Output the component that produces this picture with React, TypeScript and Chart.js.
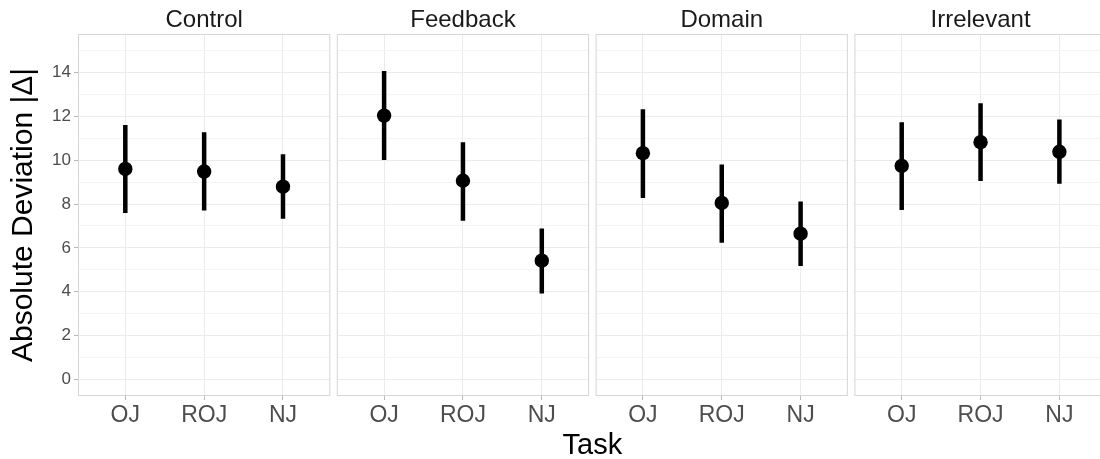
import React, { useEffect, useRef } from 'react';
import { Chart, registerables } from 'chart.js';

Chart.register(...registerables);

// ---------- data ----------
const panels = ['Control', 'Feedback', 'Domain', 'Irrelevant'];
const tasks = ['OJ', 'ROJ', 'NJ'];

const controlMean = [9.6, 9.48, 8.79];
const controlLow = [7.59, 7.71, 7.33];
const controlHigh = [11.6, 11.27, 10.27];

const feedbackMean = [12.03, 9.06, 5.42];
const feedbackLow = [10.01, 7.24, 3.92];
const feedbackHigh = [14.06, 10.82, 6.88];

const domainMean = [10.32, 8.05, 6.65];
const domainLow = [8.27, 6.24, 5.18];
const domainHigh = [12.32, 9.8, 8.12];

const irrelevantMean = [9.74, 10.82, 10.38];
const irrelevantLow = [7.73, 9.05, 8.92];
const irrelevantHigh = [11.73, 12.59, 11.85];

const yMajorTicks = [0, 2, 4, 6, 8, 10, 12, 14];
const yMinorTicks = [1, 3, 5, 7, 9, 11, 13, 15];

const yTitle = 'Absolute Deviation |Δ|';
const xTitle = 'Task';

const means = [controlMean, feedbackMean, domainMean, irrelevantMean];
const lows = [controlLow, feedbackLow, domainLow, irrelevantLow];
const highs = [controlHigh, feedbackHigh, domainHigh, irrelevantHigh];

// ---------- layout ----------
const W = 1120;
const H = 459;
const PANEL_TOP = 34;
const PANEL_BOTTOM = 396;
const PANEL_W = 252.3;
const panelLeft = [78, 336.8, 595.6, 854.4];
const FONT = '"Liberation Sans", Arial, Helvetica, sans-serif';
const MAJOR = '#ebebeb';
const MINOR = '#f4f4f4';
const BORDER = '#d6d6d6';
const TICKC = '#b8b8b8';

const facetPlugin = {
  id: 'facet',
  beforeDatasetsDraw(chart: any, _args: any, opts: any) {
    const { ctx, chartArea } = chart;
    ctx.save();
    ctx.strokeStyle = BORDER;
    ctx.lineWidth = 1;
    ctx.strokeRect(chartArea.left + 0.5, chartArea.top + 0.5, chartArea.right - chartArea.left - 1, chartArea.bottom - chartArea.top - 1);
    ctx.restore();
  },
  afterDraw(chart: any, _args: any, opts: any) {
    const { ctx, chartArea } = chart;
    ctx.save();
    ctx.fillStyle = '#1a1a1a';
    ctx.textAlign = 'center';
    ctx.textBaseline = 'alphabetic';
    ctx.font = `24px ${FONT}`;
    ctx.fillText(opts.title, (chartArea.left + chartArea.right) / 2, 27);
    if (opts.showX) {
      ctx.font = `29px ${FONT}`;
      ctx.fillStyle = '#000';
      const cx = (panelLeft[0] + panelLeft[3] + PANEL_W) / 2;
      ctx.fillText(xTitle, cx, 454);
    }
    ctx.restore();
  },
};

function Panel({ index }: { index: number }) {
  const ref = useRef<HTMLCanvasElement | null>(null);
  useEffect(() => {
    if (!ref.current) return;
    const first = index === 0;
    const m = means[index];
    const lo = lows[index];
    const hi = highs[index];
    const barData: any[] = [];
    tasks.forEach((_, i) => {
      barData.push({ x: i + 1, y: lo[i] });
      barData.push({ x: i + 1, y: hi[i] });
      barData.push({ x: i + 1, y: null });
    });
    const pointData = tasks.map((_, i) => ({ x: i + 1, y: m[i] }));
    const left = panelLeft[index];
    const right = left + PANEL_W;
    const chart = new Chart(ref.current, {
      type: 'scatter',
      data: {
        datasets: [
          {
            data: barData,
            showLine: true,
            spanGaps: false,
            borderColor: '#000',
            borderWidth: 4.5,
            borderCapStyle: 'butt',
            pointRadius: 0,
            order: 2,
          } as any,
          {
            data: pointData,
            backgroundColor: '#000',
            borderColor: '#000',
            pointRadius: 7.2,
            borderWidth: 0,
            order: 1,
          } as any,
        ],
      },
      options: {
        responsive: false,
        animation: false,
        events: [],
        layout: {
          padding: { left: first ? 0 : left, right: W - right, top: PANEL_TOP, bottom: 0 },
        },
        plugins: {
          legend: { display: false },
          tooltip: { enabled: false },
          title: { display: false },
          facet: { title: panels[index], showX: first },
        } as any,
        scales: {
          x: {
            type: 'linear',
            min: 0.4,
            max: 3.6,
            afterBuildTicks: (s: any) => {
              s.ticks = tasks.map((_, i) => ({ value: i + 1 }));
            },
            afterFit: (s: any) => {
              s.height = H - PANEL_BOTTOM;
            },
            ticks: {
              autoSkip: false,
              maxRotation: 0,
              padding: 2,
              color: '#4d4d4d',
              font: { size: 23, family: FONT },
              callback: (v: any) => tasks[Math.round(Number(v)) - 1] ?? '',
            },
            grid: { color: MAJOR, lineWidth: 1, tickLength: 4, tickColor: TICKC },
            border: { display: false },
          },
          y: {
            type: 'linear',
            min: -0.75,
            max: 15.75,
            afterBuildTicks: (s: any) => {
              const all = [...yMajorTicks, ...yMinorTicks].sort((a, b) => a - b);
              s.ticks = all.map((v) => ({ value: v }));
            },
            afterFit: (s: any) => {
              s.width = first ? left : 0;
            },
            ticks: {
              display: first,
              autoSkip: false,
              padding: 3,
              color: '#4d4d4d',
              font: { size: 17, family: FONT },
              callback: (v: any) => (yMajorTicks.includes(Number(v)) ? String(v) : ''),
            },
            grid: {
              color: (c: any) => (yMinorTicks.includes(c.tick?.value) ? MINOR : MAJOR),
              lineWidth: 1,
              drawTicks: first,
              tickLength: 4,
              tickColor: (c: any) => (yMinorTicks.includes(c.tick?.value) ? 'rgba(0,0,0,0)' : TICKC),
            },
            border: { display: false },
            title: {
              display: first,
              text: yTitle,
              color: '#000',
              font: { size: 30, family: FONT },
              padding: { top: 6, bottom: 0 },
            },
          },
        },
      } as any,
      plugins: [facetPlugin as any],
    });
    return () => chart.destroy();
  }, [index]);
  return (
    <canvas
      ref={ref}
      width={W}
      height={H}
      style={{ position: 'absolute', left: 0, top: 0, width: W, height: H }}
    />
  );
}

export default function App() {
  return (
    <div
      style={{
        position: 'absolute',
        left: 0,
        top: 0,
        width: 1100,
        height: 459,
        overflow: 'hidden',
        background: '#fff',
      }}
    >
      {panels.map((p, i) => (
        <Panel key={p} index={i} />
      ))}
    </div>
  );
}
